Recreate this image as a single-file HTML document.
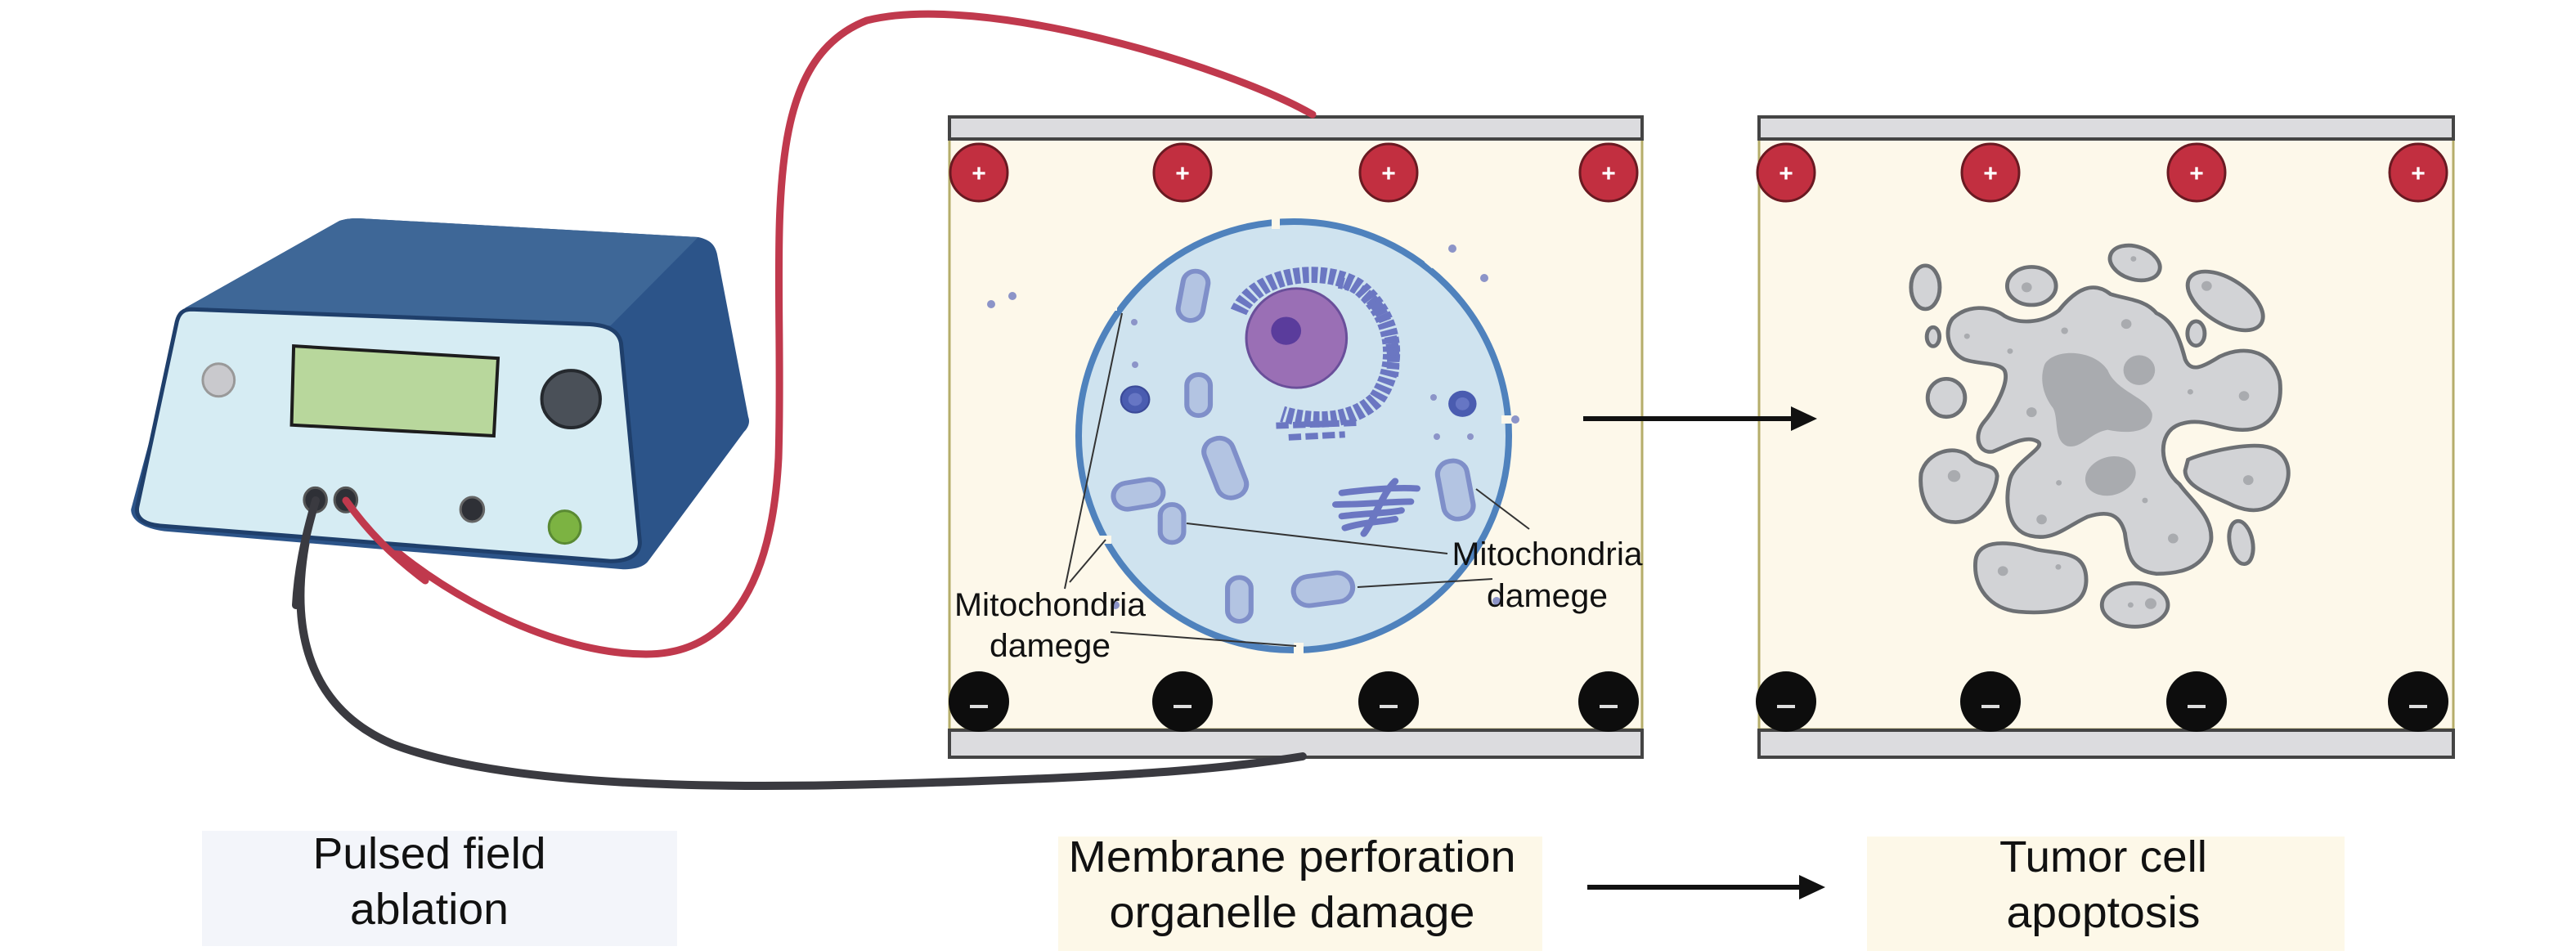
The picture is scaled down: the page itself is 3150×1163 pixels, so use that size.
<!DOCTYPE html>
<html><head><meta charset="utf-8"><style>
html,body{margin:0;padding:0;background:#fff;}
svg{display:block;}
text{font-family:"Liberation Sans",sans-serif;}
</style></head><body>
<svg width="3150" height="1163" viewBox="0 0 3150 1163" xmlns="http://www.w3.org/2000/svg">
<rect width="3150" height="1163" fill="#fff"/>

<!-- label boxes -->
<rect x="247" y="1016" width="581" height="141" fill="#f3f5fa"/>
<rect x="1294" y="1023" width="592" height="140" fill="#fdf8e8"/>
<rect x="2283" y="1023" width="584" height="140" fill="#fdf8e8"/>
<g font-size="54" fill="#111" text-anchor="middle">
<text x="525" y="1062" textLength="285" lengthAdjust="spacingAndGlyphs">Pulsed field</text>
<text x="525" y="1130" textLength="194" lengthAdjust="spacingAndGlyphs">ablation</text>
<text x="1580" y="1066" textLength="547" lengthAdjust="spacingAndGlyphs">Membrane perforation</text>
<text x="1580" y="1134" textLength="447" lengthAdjust="spacingAndGlyphs">organelle damage</text>
<text x="2572" y="1066" textLength="254" lengthAdjust="spacingAndGlyphs">Tumor cell</text>
<text x="2572" y="1134" textLength="237" lengthAdjust="spacingAndGlyphs">apoptosis</text>
</g>
<!-- bottom arrow -->
<line x1="1941" y1="1085" x2="2205" y2="1085" stroke="#111" stroke-width="6"/>
<polygon points="2232,1085 2200,1070 2200,1100" fill="#111"/>

<!-- panels -->
<g>
<rect x="1161" y="170" width="847" height="722" fill="#fdf8ea" stroke="#b5ad6a" stroke-width="3"/>
<rect x="1161" y="143" width="847" height="27" fill="#dcdcdf" stroke="#444" stroke-width="4"/>
<rect x="1161" y="893" width="847" height="33" fill="#dcdcdf" stroke="#444" stroke-width="4"/>
<rect x="2151" y="170" width="849" height="722" fill="#fdf8ea" stroke="#b5ad6a" stroke-width="3"/>
<rect x="2151" y="143" width="849" height="27" fill="#dcdcdf" stroke="#444" stroke-width="4"/>
<rect x="2151" y="893" width="849" height="33" fill="#dcdcdf" stroke="#444" stroke-width="4"/>
</g>

<!-- wires -->
<path d="M386,612 C360,700 340,850 480,910 C650,975 1000,962 1200,955 C1400,948 1500,940 1593,925" fill="none" stroke="#3a3a40" stroke-width="10" stroke-linecap="round"/>
<path d="M423,612 C480,690 650,800 790,800 C900,800 945,700 952,560 C960,300 920,80 1060,25 C1200,-10 1500,80 1605,140" fill="none" stroke="#c0394d" stroke-width="9" stroke-linecap="round"/>

<!-- electrodes -->
<g fill="#c22f40" stroke="#6a1a22" stroke-width="3">
<circle cx="1197" cy="211" r="35"/><circle cx="1446" cy="211" r="35"/><circle cx="1698" cy="211" r="35"/><circle cx="1967" cy="211" r="35"/>
<circle cx="2184" cy="211" r="35"/><circle cx="2434" cy="211" r="35"/><circle cx="2686" cy="211" r="35"/><circle cx="2957" cy="211" r="35"/>
</g>
<g fill="#0d0d0d">
<circle cx="1197" cy="858" r="37"/><circle cx="1446" cy="858" r="37"/><circle cx="1698" cy="858" r="37"/><circle cx="1967" cy="858" r="37"/>
<circle cx="2184" cy="858" r="37"/><circle cx="2434" cy="858" r="37"/><circle cx="2686" cy="858" r="37"/><circle cx="2957" cy="858" r="37"/>
</g>
<g font-weight="bold" fill="#fff" font-size="30" text-anchor="middle">
<text x="1197" y="222">+</text><text x="1446" y="222">+</text><text x="1698" y="222">+</text><text x="1967" y="222">+</text>
<text x="2184" y="222">+</text><text x="2434" y="222">+</text><text x="2686" y="222">+</text><text x="2957" y="222">+</text>
</g>
<g fill="#ddd">
<rect x="1186" y="862" width="22" height="4"/><rect x="1435" y="862" width="22" height="4"/><rect x="1687" y="862" width="22" height="4"/><rect x="1956" y="862" width="22" height="4"/>
<rect x="2173" y="862" width="22" height="4"/><rect x="2423" y="862" width="22" height="4"/><rect x="2675" y="862" width="22" height="4"/><rect x="2946" y="862" width="22" height="4"/>
</g>

<!-- middle arrow -->
<line x1="1936" y1="512" x2="2195" y2="512" stroke="#111" stroke-width="6"/>
<polygon points="2222,512 2190,497 2190,527" fill="#111"/>

<!-- cell -->
<ellipse cx="1582" cy="533" rx="263" ry="262" fill="#cfe3ef" stroke="#4f82bd" stroke-width="8"/>
<g fill="#fdf8ea">
<rect x="1555" y="262" width="10" height="18"/><rect x="1745" y="312" width="12" height="14" transform="rotate(40 1751 319)"/>
<rect x="1836" y="508" width="16" height="10"/><rect x="1350" y="370" width="16" height="10"/>
<rect x="1343" y="655" width="16" height="10"/><rect x="1582" y="786" width="12" height="16"/>
</g>
<g fill="#8c94c8">
<circle cx="1212" cy="372" r="5"/><circle cx="1238" cy="362" r="5"/><circle cx="1776" cy="304" r="5"/><circle cx="1815" cy="340" r="5"/>
<circle cx="1853" cy="513" r="5"/><circle cx="1364" cy="740" r="5"/><circle cx="1830" cy="735" r="5"/>
<circle cx="1387" cy="394" r="4"/><circle cx="1388" cy="446" r="4"/><circle cx="1753" cy="486" r="4"/><circle cx="1757" cy="534" r="4"/><circle cx="1798" cy="534" r="4"/>
</g>
<g transform="translate(1300,260) scale(0.383,0.357)">
<path d="M560,340 C620,200 850,180 950,260 C1060,360 1080,520 1000,640 C920,720 800,720 700,690" fill="none" stroke="#6b77c2" stroke-width="55" stroke-dasharray="20 8"/>
<path d="M880,240 C1020,260 1070,440 1050,560" fill="none" stroke="#6b77c2" stroke-width="40" stroke-dasharray="16 8"/>
<ellipse cx="745" cy="430" rx="160" ry="170" fill="#9a6fb5" stroke="#6a4f9a" stroke-width="8"/>
<circle cx="712" cy="405" r="48" fill="#5a3c9c"/>
<path d="M680,730 L940,720 M720,770 L900,760" stroke="#6b77c2" stroke-width="22" stroke-dasharray="40 14"/>
<circle cx="230" cy="640" r="45" fill="#4a5cb0" stroke="#3b4a98" stroke-width="6"/><circle cx="230" cy="640" r="22" fill="#6676c4"/>
<circle cx="1275" cy="655" r="45" fill="#4a5cb0"/><circle cx="1275" cy="655" r="22" fill="#6676c4"/>
<g fill="none" stroke="#6b77c2" stroke-width="22" stroke-linecap="round">
<path d="M870,1000 C950,1000 1050,990 1110,990"/><path d="M890,960 C960,950 1060,940 1130,945"/><path d="M890,1040 C960,1030 1040,1030 1080,1020"/><path d="M900,1080 C960,1060 1010,1060 1060,1050"/><path d="M960,1100 C990,1060 1020,960 1060,920"/>
</g>
<g fill="#b3c4e2" stroke="#7f8fc9" stroke-width="16">
<rect x="375" y="200" width="80" height="170" rx="40" transform="rotate(10 415 285)"/>
<rect x="395" y="555" width="75" height="140" rx="37"/>
<rect x="470" y="770" width="95" height="210" rx="45" transform="rotate(-20 517 875)"/>
<rect x="160" y="920" width="160" height="90" rx="45" transform="rotate(-10 240 965)"/>
<rect x="310" y="1000" width="75" height="130" rx="37"/>
<rect x="525" y="1250" width="75" height="150" rx="37"/>
<rect x="735" y="1240" width="190" height="100" rx="50" transform="rotate(-8 830 1290)"/>
<rect x="1205" y="850" width="95" height="200" rx="45" transform="rotate(-10 1252 950)"/>
</g>
</g>
<!-- leader lines -->
<g stroke="#333" stroke-width="2" fill="none">
<line x1="1372" y1="383" x2="1302" y2="720"/>
<line x1="1352" y1="660" x2="1308" y2="712"/>
<line x1="1358" y1="773" x2="1585" y2="790"/>
<line x1="1451" y1="640" x2="1770" y2="677"/>
<line x1="1660" y1="718" x2="1825" y2="708"/>
<line x1="1805" y1="598" x2="1870" y2="647"/>
</g>
<g font-size="40" fill="#111" text-anchor="middle">
<text x="1284" y="753" textLength="234" lengthAdjust="spacingAndGlyphs">Mitochondria</text>
<text x="1284" y="803" textLength="148" lengthAdjust="spacingAndGlyphs">damege</text>
<text x="1892" y="691" textLength="233" lengthAdjust="spacingAndGlyphs">Mitochondria</text>
<text x="1892" y="742" textLength="148" lengthAdjust="spacingAndGlyphs">damege</text>
</g>

<!-- apoptotic cell -->
<g transform="translate(2300,280) scale(0.351,0.332)" fill="#d2d3d6" stroke="#6d7074" stroke-width="14">
<path d="M250,330 C300,280 380,280 430,320 C480,350 560,350 620,300 C680,220 740,190 800,240 C860,260 920,260 960,310 C1020,340 1040,400 1060,480 C1080,530 1120,510 1180,470 C1280,420 1370,460 1390,560 C1400,660 1360,740 1260,740 C1180,740 1120,690 1040,720 C960,750 970,880 1040,940 C1080,1000 1160,1060 1150,1150 C1130,1240 1060,1270 960,1270 C870,1260 860,1200 850,1120 C830,1040 780,1040 720,1060 C640,1100 600,1150 520,1130 C440,1110 430,1000 450,920 C470,850 590,800 540,780 C500,760 440,800 390,820 C340,830 320,760 360,710 C400,660 450,560 430,520 C410,490 340,500 290,480 C230,450 220,370 250,330 Z"/>
<ellipse cx="155" cy="215" rx="50" ry="80"/>
<ellipse cx="525" cy="210" rx="85" ry="70"/>
<ellipse cx="885" cy="125" rx="90" ry="60" transform="rotate(20 885 125)"/>
<ellipse cx="1200" cy="265" rx="150" ry="80" transform="rotate(35 1200 265)"/>
<ellipse cx="182" cy="397" rx="22" ry="35"/>
<ellipse cx="1098" cy="385" rx="30" ry="45"/>
<ellipse cx="228" cy="622" rx="65" ry="70"/>
<path d="M140,900 C160,820 260,790 310,840 C340,880 400,860 405,910 C400,980 340,1080 260,1080 C170,1080 130,990 140,900 Z"/>
<path d="M1070,850 C1110,830 1250,790 1330,800 C1420,810 1440,900 1400,970 C1360,1040 1300,1050 1230,1020 C1150,980 1060,950 1060,890 Z"/>
<ellipse cx="1255" cy="1155" rx="40" ry="80" transform="rotate(-10 1255 1155)"/>
<path d="M330,1220 C340,1140 450,1150 540,1180 C620,1200 720,1180 715,1300 C710,1400 600,1420 480,1410 C380,1400 320,1320 330,1220 Z"/>
<ellipse cx="885" cy="1385" rx="115" ry="80"/>
<g stroke="none" fill="#a9abaf">
<path d="M570,500 C600,440 740,440 790,520 C820,600 930,620 945,680 C950,740 880,760 790,740 C730,750 700,810 650,800 C600,780 620,700 600,660 C570,620 550,560 570,500 Z"/>
<ellipse cx="800" cy="910" rx="90" ry="70" transform="rotate(-20 800 910)"/>
<ellipse cx="900" cy="520" rx="55" ry="55"/>
<circle cx="508" cy="215" r="18"/><circle cx="1135" cy="210" r="18"/><circle cx="855" cy="350" r="18"/><circle cx="255" cy="910" r="22"/><circle cx="1265" cy="615" r="18"/><circle cx="1280" cy="925" r="18"/><circle cx="560" cy="1070" r="18"/><circle cx="1018" cy="1140" r="18"/><circle cx="425" cy="1260" r="18"/><circle cx="940" cy="1380" r="20"/><circle cx="525" cy="675" r="18"/>
<circle cx="300" cy="395" r="10"/><circle cx="450" cy="450" r="10"/><circle cx="640" cy="375" r="12"/><circle cx="1078" cy="600" r="10"/><circle cx="620" cy="935" r="10"/><circle cx="920" cy="1000" r="10"/><circle cx="618" cy="1245" r="10"/><circle cx="870" cy="1385" r="10"/><circle cx="880" cy="110" r="10"/>
</g>
</g>

<!-- device -->
<g transform="translate(150,250) scale(0.510,0.333)">
<path d="M150,380 L520,60 C540,50 560,50 580,52 L1380,120 C1410,130 1420,150 1425,180 L1500,780 C1505,800 1500,820 1490,835 L1260,1310 C1250,1330 1230,1340 1200,1340 L100,1200 C50,1190 20,1160 20,1120 Z" fill="#2c5489"/>
<path d="M150,380 L520,60 C540,50 560,50 580,52 L1380,120 L1170,445 Z" fill="#3e6797"/>
<path d="M165,385 L1120,440 C1170,445 1190,470 1195,510 L1240,1240 C1240,1290 1210,1310 1170,1310 L90,1180 C50,1175 30,1150 35,1110 L130,430 C135,400 145,385 165,385 Z" fill="#d6ecf3" stroke="#1f3f6b" stroke-width="5" vector-effect="non-scaling-stroke"/>
<path d="M410,520 L900,565 L890,850 L405,810 Z" fill="#b8d79c" stroke="#1d1d1d" stroke-width="4" vector-effect="non-scaling-stroke"/>
<ellipse cx="230" cy="645" rx="38" ry="60" fill="#c9c9cd" stroke="#999" stroke-width="3" vector-effect="non-scaling-stroke"/>
<ellipse cx="1075" cy="715" rx="70" ry="105" fill="#4a5058" stroke="#25292e" stroke-width="4" vector-effect="non-scaling-stroke"/>
<ellipse cx="462" cy="1085" rx="27" ry="45" fill="#2e3036" stroke="#555" stroke-width="3" vector-effect="non-scaling-stroke"/>
<ellipse cx="535" cy="1085" rx="27" ry="45" fill="#2e3036" stroke="#555" stroke-width="3" vector-effect="non-scaling-stroke"/>
<ellipse cx="838" cy="1120" rx="28" ry="45" fill="#2e3036" stroke="#666" stroke-width="3" vector-effect="non-scaling-stroke"/>
<ellipse cx="1060" cy="1185" rx="38" ry="60" fill="#7cb342" stroke="#5a8a33" stroke-width="3" vector-effect="non-scaling-stroke"/>
</g>
<path d="M386,612 C372,660 364,700 362,740" fill="none" stroke="#3a3a40" stroke-width="10" stroke-linecap="round"/>
<path d="M423,612 C450,650 480,680 520,710" fill="none" stroke="#c0394d" stroke-width="9" stroke-linecap="round"/>
</svg>
</body></html>
